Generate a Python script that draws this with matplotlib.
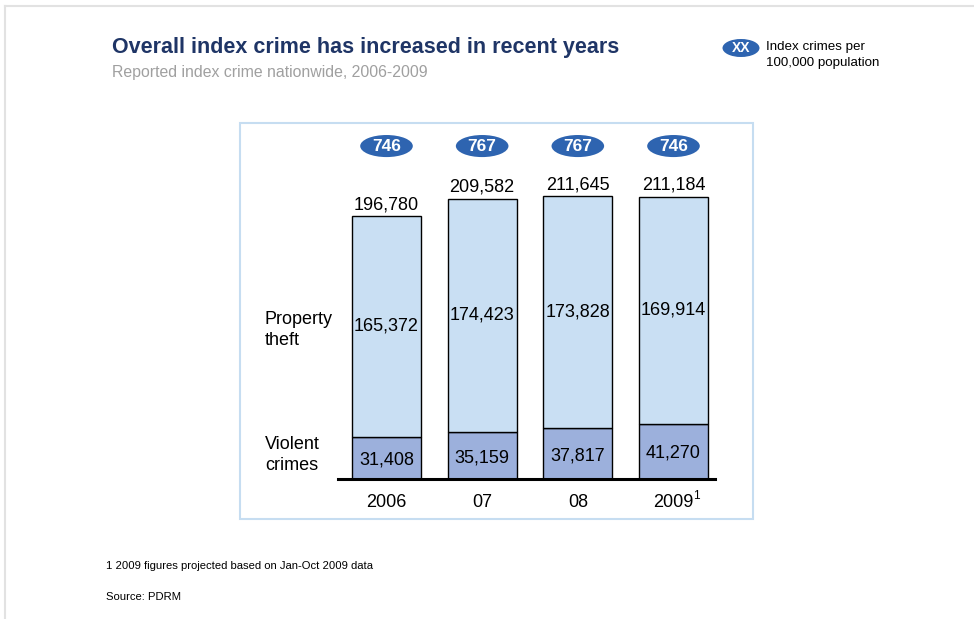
import matplotlib
matplotlib.use("Agg")
import matplotlib.pyplot as plt
from matplotlib.patches import Ellipse, Rectangle
from matplotlib.lines import Line2D
import numpy as np

plt.rcParams["font.family"] = ["Liberation Sans", "DejaVu Sans"]

# ── data ─────────────────────────────────────────────────────────────────────
years      = ["2006", "07", "08", "2009"]
year_notes = ["", "", "", "1"]
violent    = [31408, 35159, 37817, 41270]
property_  = [165372, 174423, 173828, 169914]
totals     = [196780, 209582, 211645, 211184]
per_100k   = [746, 767, 767, 746]

NAVY     = "#1f3566"
OVAL     = "#2e64b0"
C_PROP   = "#c9dff3"
C_VIOL   = "#9cb0dc"
BOX_EDGE = "#c6ddf1"

W, H = 974, 619
fig = plt.figure(figsize=(W / 100, H / 100), dpi=100, facecolor="white")


def fx(px):
    return px / W


def fy(py):
    return 1 - py / H


# page frame (top and left edges)
fig.add_artist(Line2D([fx(5), 1], [fy(6), fy(6)], color="#e2e2e2", lw=1.5))
fig.add_artist(Line2D([fx(5), fx(5)], [fy(6), 0], color="#e2e2e2", lw=1.5))

# chart panel
fig.add_artist(Rectangle((fx(240), fy(519)), fx(753) - fx(240), fy(123) - fy(519),
                         transform=fig.transFigure, fill=False,
                         edgecolor=BOX_EDGE, lw=1.5))

# titles
fig.text(fx(112), fy(47), "Overall index crime has increased in recent years",
         color=NAVY, fontsize=15.5, fontweight="bold", va="center", ha="left")
fig.text(fx(112), fy(73), "Reported index crime nationwide, 2006-2009",
         color="#a0a0a0", fontsize=11.4, va="center", ha="left")

# legend key
fig.add_artist(Ellipse((fx(741), fy(48)), fx(37), 18 / H, transform=fig.transFigure,
                       facecolor=OVAL, edgecolor="none"))
fig.text(fx(741), fy(48), "XX", color="white", fontsize=10, fontweight="bold",
         ha="center", va="center")
fig.text(fx(766), fy(55), "Index crimes per\n100,000 population", fontsize=9.6,
         ha="left", va="center", linespacing=1.4)

# ── stacked bars ─────────────────────────────────────────────────────────────
ax = fig.add_axes([fx(338), fy(479), fx(715) - fx(338), fy(130) - fy(479)])
ax.set_xlim(-0.507, 3.434)
ax.set_ylim(0, 261000)
ax.axis("off")

x = np.arange(len(years))
bw = 0.72
ax.bar(x, violent, width=bw, color=C_VIOL, edgecolor="black", lw=1)
ax.bar(x, property_, bottom=violent, width=bw, color=C_PROP, edgecolor="black", lw=1)
ax.axhline(0, color="black", lw=2.2, clip_on=False)

for i in range(len(years)):
    ax.annotate(f"{violent[i]:,}", (x[i], violent[i] / 2), xytext=(0, -1.5),
                textcoords="offset points", ha="center", va="center", fontsize=13)
    ax.text(x[i], violent[i] + property_[i] / 2, f"{property_[i]:,}",
            ha="center", va="center", fontsize=13)
    ax.annotate(f"{totals[i]:,}", (x[i], totals[i]), xytext=(0, 2),
                textcoords="offset points", ha="center", va="bottom", fontsize=13)
    ax.annotate(years[i], (x[i], 0), xytext=(0, -20.5), textcoords="offset points",
                ha="center", va="baseline", fontsize=13)
    if year_notes[i]:
        # footnote marker sits just right of the year label
        ax.annotate(year_notes[i], (x[i], 0), xytext=(14, -14.5),
                    textcoords="offset points", ha="left", va="baseline",
                    fontsize=8.5)
    ax.add_patch(Ellipse((x[i], 249000), 0.55, 16500, facecolor=OVAL,
                         edgecolor="none", clip_on=False))
    ax.text(x[i], 249000, str(per_100k[i]), color="white", fontsize=12.5,
            fontweight="bold", ha="center", va="center")

# row labels
fig.text(fx(265), fy(330), "Property\ntheft", fontsize=13, ha="left",
         va="center", linespacing=1.3)
fig.text(fx(265), fy(455), "Violent\ncrimes", fontsize=13, ha="left",
         va="center", linespacing=1.3)

# footnotes
fig.text(fx(106), fy(566), "1 2009 figures projected based on Jan-Oct 2009 data",
         fontsize=8.1, ha="left", va="center")
fig.text(fx(106), fy(597), "Source: PDRM", fontsize=8.1, ha="left", va="center")

fig.savefig("out.png", dpi=100, facecolor="white")
